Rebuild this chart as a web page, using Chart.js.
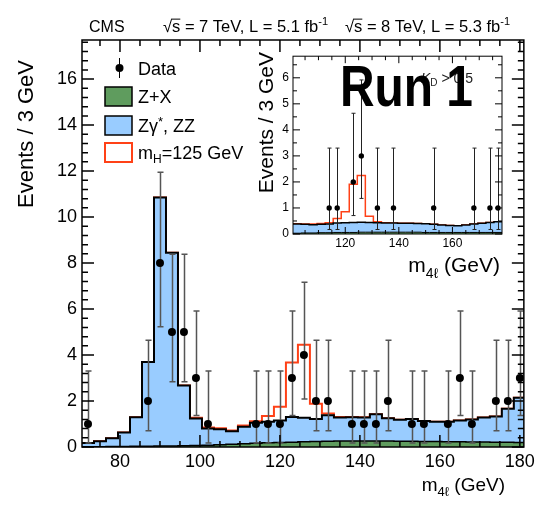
<!DOCTYPE html>
<html>
<head>
<meta charset="utf-8">
<script src="https://cdn.jsdelivr.net/npm/chart.js@4.4.1/dist/chart.umd.min.js"></script>
<style>
  html, body { margin: 0; padding: 0; background: #fff; }
  #wrap { position: relative; width: 539px; height: 510px; }
  #main { position: absolute; left: 0; top: 0; }
  #inset { position: absolute; left: 245px; top: 45px; }
</style>
</head>
<body>
<div id="wrap">
  <canvas id="main" width="539" height="510"></canvas>
  <canvas id="inset" width="265" height="235"></canvas>
</div>
<script>
const FONT = '"Liberation Sans", Arial, Helvetica, sans-serif';
const BLUE = '#99ccff';
const GREEN = '#5f9c5e';
const RED = '#ff4117';

// 4-lepton mass bins (centres, GeV), 3 GeV wide
const massBins = [72, 75, 78, 81, 84, 87, 90, 93, 96, 99, 102, 105, 108, 111, 114, 117, 120, 123, 126,
  129, 132, 135, 138, 141, 144, 147, 150, 153, 156, 159, 162, 165, 168, 171, 174, 177, 180];
const dataCounts = [1, 0, 0, 0, 0, 2, 8, 5, 5, 3, 1, 0, 0, 0, 1, 1, 1, 3, 4,
  2, 2, 0, 1, 1, 1, 2, 0, 1, 1, 0, 1, 3, 1, 0, 2, 2, 3];
const zxBkg = [0.01, 0.01, 0.02, 0.02, 0.03, 0.03, 0.04, 0.04, 0.05, 0.06, 0.08, 0.10, 0.12, 0.14, 0.16, 0.18, 0.20, 0.21, 0.23,
  0.24, 0.25, 0.26, 0.26, 0.26, 0.26, 0.26, 0.25, 0.25, 0.24, 0.24, 0.23, 0.23, 0.22, 0.22, 0.21, 0.21, 0.20];
const zzBkg = [0.16, 0.24, 0.36, 0.61, 1.26, 3.67, 10.81, 8.41, 2.63, 1.18, 0.72, 0.67, 0.56, 0.74, 0.89, 0.92, 0.95, 1.09, 1.04,
  0.98, 1.13, 1.02, 1.03, 1.02, 1.16, 0.99, 0.93, 0.97, 0.89, 0.86, 0.87, 0.92, 0.98, 1.06, 1.12, 1.45, 1.94];
const higgs125 = [0, 0, 0, 0, 0, 0, 0, 0, 0, 0.03, 0.05, 0.04, 0.04, 0.05, 0.07, 0.25, 0.60, 2.37, 3.18,
  0.66, 0.08, 0.03, 0.02, 0.01, 0, 0, 0, 0, 0, 0, 0, 0, 0, 0, 0, 0, 0];

// K_D > 0.5 selection
const insetBins = [102, 105, 108, 111, 114, 117, 120, 123, 126, 129, 132, 135, 138, 141, 144, 147, 150,
  153, 156, 159, 162, 165, 168, 171, 174, 177];
const insetCounts = [0, 0, 0, 0, 1, 1, 0, 2, 3, 0, 1, 0, 1, 0, 0, 0, 0, 1, 0, 0, 0, 0, 1, 0, 1, 1];
const insetZX = [0.03, 0.04, 0.04, 0.05, 0.05, 0.06, 0.06, 0.06, 0.07, 0.07, 0.07, 0.07, 0.07, 0.07, 0.07, 0.07, 0.06,
  0.06, 0.06, 0.06, 0.06, 0.06, 0.06, 0.06, 0.06, 0.06];
const insetZZ = [0.35, 0.33, 0.32, 0.32, 0.33, 0.36, 0.37, 0.38, 0.38, 0.37, 0.36, 0.35, 0.35, 0.34, 0.34, 0.33, 0.33,
  0.31, 0.29, 0.27, 0.26, 0.29, 0.32, 0.35, 0.38, 0.41];
const insetHiggs = [0.01, 0.01, 0.02, 0.03, 0.05, 0.18, 0.42, 1.47, 1.80, 0.24, 0.04, 0.01, 0, 0, 0, 0, 0,
  0, 0, 0, 0, 0, 0, 0, 0, 0];

const xTicks = [80, 100, 120, 140, 160, 180];
const yTicks = [0, 2, 4, 6, 8, 10, 12, 14, 16];
const insetXTicks = [120, 140, 160];
const insetYTicks = [0, 1, 2, 3, 4, 5, 6];

// 68% CL Poisson intervals for n = 0..8
const poissonLo = [0, 0.173, 0.708, 1.367, 2.086, 2.840, 3.620, 4.419, 5.232];
const poissonHi = [1.841, 3.300, 4.638, 5.918, 7.163, 8.382, 9.584, 10.77, 11.95];

const HALF_BIN = 1.5;

// histogram outline: one point per left bin edge plus the last right edge;
// with stepped:'before' each segment keeps the level of its start point
function stepPoints(centres, levels) {
  const pts = centres.map((c, i) => ({ x: c - HALF_BIN, y: levels[i] }));
  pts.push({ x: centres[centres.length - 1] + HALF_BIN, y: levels[levels.length - 1] });
  return pts;
}

function stack(...arrs) {
  return arrs[0].map((_, i) => arrs.reduce((s, a) => s + a[i], 0));
}

function dataPoints(centres, counts) {
  return centres.map((c, i) => ({ x: c, y: counts[i] })).filter(p => p.y > 0);
}

function histDatasets(centres, zx, zz, sig, counts, st) {
  const line = { showLine: true, stepped: 'before', pointRadius: 0, pointHoverRadius: 0,
    borderJoinStyle: 'miter', borderCapStyle: 'butt' };
  return [
    { ...line, label: 'Z+X', data: stepPoints(centres, zx), borderColor: '#000',
      borderWidth: st.zxLine, backgroundColor: GREEN, fill: 'origin', order: 1 },
    { ...line, label: 'Zγ*, ZZ', data: stepPoints(centres, stack(zx, zz)), borderColor: '#000',
      borderWidth: st.bkgLine, backgroundColor: BLUE, fill: '-1', order: 2 },
    { ...line, label: 'mH=125 GeV', data: stepPoints(centres, stack(zx, zz, sig)), borderColor: RED,
      borderWidth: st.sigLine, fill: false, order: 3 },
    { label: 'Data', data: dataPoints(centres, counts), showLine: false, pointRadius: st.dot,
      pointHoverRadius: st.dot, pointBackgroundColor: '#000', pointBorderWidth: 0, order: 0, errorBars: true },
  ];
}

const errorBarPlugin = {
  id: 'errorBars',
  beforeDatasetDraw(chart, args, opts) {
    const ds = chart.data.datasets[args.index];
    if (!ds.errorBars) return;
    const { ctx } = chart;
    const xs = chart.scales.x, ys = chart.scales.y;
    ctx.save();
    ctx.strokeStyle = opts.color;
    ctx.lineWidth = opts.width;
    ctx.beginPath();
    ds.data.forEach(p => {
      const px = Math.round(xs.getPixelForValue(p.x)) + 0.5;
      const yLo = ys.getPixelForValue(poissonLo[p.y]);
      const yHi = ys.getPixelForValue(Math.min(poissonHi[p.y], ys.max));
      ctx.moveTo(px, yLo); ctx.lineTo(px, yHi);
      ctx.moveTo(px - opts.cap, yLo); ctx.lineTo(px + opts.cap, yLo);
      ctx.moveTo(px - opts.cap, yHi); ctx.lineTo(px + opts.cap, yHi);
    });
    ctx.stroke();
    ctx.restore();
  }
};

// frame with inward ticks on all four sides
function drawFrame(chart, f) {
  const { ctx, chartArea: a } = chart;
  const xs = chart.scales.x, ys = chart.scales.y;
  ctx.save();
  ctx.strokeStyle = '#000';
  ctx.lineWidth = f.lineWidth;
  ctx.beginPath();
  for (let k = 0; ; k++) {
    const v = f.xFirst + k * f.xMinor;
    if (v > xs.max) break;
    const px = xs.getPixelForValue(v);
    const len = v % f.xMajor === 0 ? f.major : f.minor;
    ctx.moveTo(px, a.bottom); ctx.lineTo(px, a.bottom - len);
    ctx.moveTo(px, a.top); ctx.lineTo(px, a.top + len);
  }
  for (let k = 0; ; k++) {
    const v = k * f.yMinor;
    if (v > ys.max + 1e-9) break;
    const py = ys.getPixelForValue(v);
    const len = k % f.yPerMajor === 0 ? f.major : f.minor;
    ctx.moveTo(a.left, py); ctx.lineTo(a.left + len, py);
    ctx.moveTo(a.right, py); ctx.lineTo(a.right - len, py);
  }
  ctx.stroke();
  ctx.strokeRect(a.left, a.top, a.width, a.height);
  ctx.restore();
}

// text run with sub/superscripts; parts: {t, size, dy, style, over}
function richText(ctx, x, y, parts, align) {
  const fontOf = p => (p.style || '') + ' ' + p.size + 'px ' + FONT;
  let w = 0;
  parts.forEach(p => { ctx.font = fontOf(p); w += ctx.measureText(p.t).width; });
  let cx = align === 'right' ? x - w : x;
  ctx.textAlign = 'left';
  parts.forEach(p => {
    ctx.font = fontOf(p);
    const pw = ctx.measureText(p.t).width;
    ctx.fillText(p.t, cx, y + (p.dy || 0));
    if (p.over) {
      ctx.save();
      ctx.lineWidth = 1;
      ctx.strokeStyle = ctx.fillStyle;
      ctx.beginPath();
      ctx.moveTo(cx - 1, y - p.size * 0.78);
      ctx.lineTo(cx + pw, y - p.size * 0.78);
      ctx.stroke();
      ctx.restore();
    }
    cx += pw;
  });
}

function rotatedTitle(ctx, text, x, yTop, size) {
  ctx.save();
  ctx.translate(x, yTop);
  ctx.rotate(-Math.PI / 2);
  ctx.font = size + 'px ' + FONT;
  ctx.textAlign = 'right';
  ctx.textBaseline = 'alphabetic';
  ctx.fillText(text, 0, 0);
  ctx.restore();
}

const massTitle = size => [
  { t: 'm', size },
  { t: '4ℓ', size: Math.round(size * 0.68), dy: size * 0.28 },
  { t: ' (GeV)', size },
];

const mainDecor = {
  id: 'mainDecor',
  afterDraw(chart) {
    const { ctx } = chart;
    drawFrame(chart, { lineWidth: 1.5, xFirst: 75, xMinor: 5, xMajor: 20, yMinor: 0.4, yPerMajor: 5, major: 12, minor: 6 });
    ctx.save();
    ctx.fillStyle = '#000';
    ctx.textBaseline = 'alphabetic';

    richText(ctx, 89, 32, [{ t: 'CMS', size: 16 }]);
    const energy = (e, l) => [
      { t: '√', size: 16.5 }, { t: 's', size: 16.5, over: true },
      { t: ' = ' + e + ' TeV, L = ' + l + ' fb', size: 16.5 },
      { t: '-1', size: 11, dy: -7 },
    ];
    richText(ctx, 163, 32, energy(7, '5.1'));
    richText(ctx, 345, 32, energy(8, '5.3'));

    rotatedTitle(ctx, 'Events / 3 GeV', 33, 60, 22);
    richText(ctx, 505, 491, massTitle(19), 'right');

    // legend
    ctx.strokeStyle = '#000';
    ctx.lineWidth = 1;
    ctx.beginPath();
    ctx.moveTo(119.5, 58); ctx.lineTo(119.5, 78);
    ctx.stroke();
    ctx.beginPath();
    ctx.arc(119.5, 68, 4, 0, Math.PI * 2);
    ctx.fill();

    ctx.lineWidth = 1.5;
    ctx.fillStyle = GREEN;
    ctx.fillRect(105, 87, 27, 19);
    ctx.strokeRect(105, 87, 27, 19);
    ctx.fillStyle = BLUE;
    ctx.fillRect(105, 116, 27, 19);
    ctx.strokeRect(105, 116, 27, 19);
    ctx.strokeStyle = RED;
    ctx.lineWidth = 2;
    ctx.strokeRect(105, 143, 27, 19);

    ctx.fillStyle = '#000';
    richText(ctx, 138, 74.5, [{ t: 'Data', size: 18 }]);
    richText(ctx, 138, 103, [{ t: 'Z+X', size: 18 }]);
    richText(ctx, 138, 132, [{ t: 'Zγ', size: 18 }, { t: '*', size: 13, dy: -6 }, { t: ', ZZ', size: 18 }]);
    richText(ctx, 138, 159, [{ t: 'm', size: 18 }, { t: 'H', size: 12, dy: 4 }, { t: '=125 GeV', size: 18 }]);
    ctx.restore();
  }
};

const insetDecor = {
  id: 'insetDecor',
  beforeDatasetsDraw(chart) {
    const { ctx, chartArea: a } = chart;
    ctx.save();
    ctx.fillStyle = '#fff';
    ctx.fillRect(a.left, a.top, a.width, a.height);
    ctx.restore();
  },
  afterDraw(chart) {
    const { ctx } = chart;
    drawFrame(chart, { lineWidth: 1, xFirst: 105, xMinor: 5, xMajor: 20, yMinor: 0.5, yPerMajor: 2, major: 7, minor: 4 });
    ctx.save();
    ctx.fillStyle = '#000';
    ctx.textBaseline = 'alphabetic';
    rotatedTitle(ctx, 'Events / 3 GeV', 28, 7, 21);
    richText(ctx, 255, 227, massTitle(21), 'right');

    ctx.fillStyle = '#222';
    richText(ctx, 176, 38, [{ t: 'K', size: 14, style: 'italic' }, { t: 'D', size: 10, dy: 3 }, { t: ' > 0.5', size: 14 }]);

    ctx.fillStyle = '#000';
    ctx.translate(95, 61);
    ctx.scale(0.84, 1);
    ctx.font = 'bold 57px ' + FONT;
    ctx.textAlign = 'left';
    ctx.fillText('Run 1', 0, 0);
    ctx.restore();
  }
};

function axes(xMin, xMax, xT, yMax, yT, st) {
  const tickFont = { family: FONT, size: st.font };
  return {
    x: {
      type: 'linear', min: xMin, max: xMax,
      afterBuildTicks: s => { s.ticks = xT.map(v => ({ value: v })); },
      grid: { display: false, drawTicks: false }, border: { display: false },
      ticks: { font: tickFont, color: '#000', padding: st.xPad, maxRotation: 0, autoSkip: false },
      afterFit: s => { s.height = st.xHeight; }
    },
    y: {
      min: 0, max: yMax,
      afterBuildTicks: s => { s.ticks = yT.map(v => ({ value: v })); },
      grid: { display: false, drawTicks: false }, border: { display: false },
      ticks: { font: tickFont, color: '#000', padding: st.yPad, autoSkip: false },
      afterFit: s => { s.width = st.yWidth; }
    }
  };
}

new Chart(document.getElementById('main'), {
  type: 'line',
  data: {
    datasets: histDatasets(massBins, zxBkg, zzBkg, higgs125, dataCounts,
      { zxLine: 1.5, bkgLine: 2, sigLine: 2, dot: 4 })
  },
  options: {
    responsive: false,
    animation: false,
    layout: { padding: { top: 40, right: 15, left: 0, bottom: 0 } },
    scales: axes(70.5, 181, xTicks, 17.7, yTicks,
      { font: 18, xPad: 4, yPad: 5, xHeight: 63, yWidth: 82 }),
    plugins: {
      legend: { display: false },
      tooltip: { enabled: false },
      errorBars: { color: '#555', width: 1.5, cap: 3 }
    }
  },
  plugins: [errorBarPlugin, mainDecor]
});

new Chart(document.getElementById('inset'), {
  type: 'line',
  data: {
    datasets: histDatasets(insetBins, insetZX, insetZZ, insetHiggs, insetCounts,
      { zxLine: 1, bkgLine: 1.5, sigLine: 1.5, dot: 2.7 })
  },
  options: {
    responsive: false,
    animation: false,
    layout: { padding: { top: 7, right: 8, left: 0, bottom: 0 } },
    scales: axes(100.5, 178.5, insetXTicks, 6.83, insetYTicks,
      { font: 12, xPad: 2, yPad: 4, xHeight: 46, yWidth: 48 }),
    plugins: {
      legend: { display: false },
      tooltip: { enabled: false },
      errorBars: { color: '#222', width: 1, cap: 2 }
    }
  },
  plugins: [errorBarPlugin, insetDecor]
});
</script>
</body>
</html>
